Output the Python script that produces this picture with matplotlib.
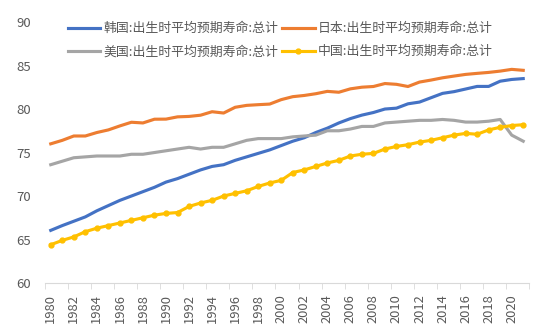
import matplotlib.pyplot as plt
import numpy as np

plt.rcParams['font.family'] = ['Noto Sans CJK SC', 'DejaVu Sans']

years = list(range(1980, 2022))
korea = [66.05, 66.6, 67.1, 67.6, 68.3, 68.9, 69.5, 70.0, 70.5, 71.0,
         71.6, 72.0, 72.5, 73.0, 73.4, 73.6, 74.1, 74.5, 74.9, 75.3,
         75.8, 76.3, 76.7, 77.3, 77.8, 78.4, 78.9, 79.3, 79.6, 80.0,
         80.1, 80.6, 80.8, 81.3, 81.8, 82.0, 82.3, 82.6, 82.6, 83.2,
         83.4, 83.5]
japan = [76.0, 76.4, 76.9, 76.9, 77.3, 77.6, 78.06, 78.48, 78.40, 78.83,
         78.84, 79.10, 79.15, 79.29, 79.69, 79.54, 80.20, 80.42, 80.50, 80.57,
         81.08, 81.42, 81.56, 81.76, 82.03, 81.93, 82.32, 82.51, 82.59, 82.93,
         82.84, 82.59, 83.10, 83.33, 83.59, 83.79, 83.98, 84.10, 84.21, 84.36,
         84.56, 84.45]
usa = [73.6, 74.0, 74.4, 74.5, 74.6, 74.6, 74.6, 74.8, 74.8, 75.0,
       75.2, 75.4, 75.6, 75.4, 75.6, 75.6, 76.0, 76.4, 76.6, 76.6,
       76.6, 76.8, 76.9, 77.0, 77.5, 77.5, 77.7, 78.0, 78.0, 78.4,
       78.5, 78.6, 78.7, 78.7, 78.8, 78.7, 78.5, 78.5, 78.6, 78.8,
       77.0, 76.3]
china = [64.4, 64.9, 65.3, 65.9, 66.3, 66.6, 66.9, 67.2, 67.5, 67.8,
         68.0, 68.1, 68.8, 69.2, 69.5, 70.0, 70.3, 70.6, 71.1, 71.5,
         71.8, 72.7, 73.0, 73.4, 73.8, 74.1, 74.6, 74.8, 74.9, 75.4,
         75.7, 75.9, 76.2, 76.4, 76.7, 77.0, 77.2, 77.1, 77.6, 77.9,
         78.1, 78.2]

suffix = ':出生时平均预期寿命:总计'
x = np.arange(len(years))

fig = plt.figure(figsize=(5.5, 3.32), dpi=100)
ax = fig.add_axes([0.0818, 0.1476, 0.88, 0.786])

l_kr, = ax.plot(x, korea, color='#4472C4', lw=2.25, label='韩国' + suffix)
l_jp, = ax.plot(x, japan, color='#ED7D31', lw=2.25, label='日本' + suffix)
l_us, = ax.plot(x, usa, color='#A5A5A5', lw=2.25, label='美国' + suffix)
l_cn, = ax.plot(x, china, color='#FFC000', lw=2.25, marker='o', ms=3.5,
                label='中国' + suffix)

ax.set_xlim(-0.5, len(years) - 0.5)
ax.set_ylim(60, 90)
ax.set_yticks(range(60, 91, 5))
ax.set_xticks(x[::2])
ax.set_xticklabels([str(y) for y in years[::2]], rotation=90)
ax.set_xticks(np.arange(-0.5, len(years), 2), minor=True)

for s in ['left', 'right', 'top']:
    ax.spines[s].set_visible(False)
ax.spines['bottom'].set_color('#D9D9D9')
ax.tick_params(axis='y', length=0, pad=10, labelsize=9.5, labelcolor='#595959')
ax.tick_params(axis='x', which='major', length=0, pad=8, labelsize=9.3,
               labelcolor='#595959')
ax.tick_params(axis='x', which='minor', length=4, color='#D9D9D9')

# matplotlib fills legend columns first
fig.legend(handles=[l_kr, l_us, l_jp, l_cn], loc='upper left',
           bbox_to_anchor=(0.112, 0.953), ncol=2,
           frameon=False, fontsize=9.3, handlelength=2.5, handletextpad=0.25,
           columnspacing=0.3, labelspacing=0.8, borderpad=0,
           labelcolor='#595959')

fig.savefig('out.png', dpi=100)
